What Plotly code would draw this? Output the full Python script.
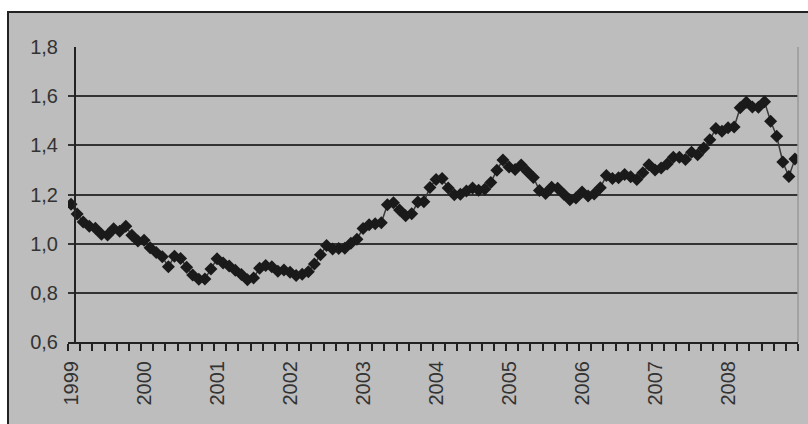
import plotly.graph_objects as go

years = [str(y) for y in range(1999, 2009)]
rate_1999 = [1.1608, 1.1208, 1.0883, 1.0704, 1.0628, 1.0378, 1.0353, 1.0604, 1.0501, 1.0706, 1.0338, 1.0110]
rate_2000 = [1.0137, 0.9834, 0.9643, 0.9470, 0.9060, 0.9492, 0.9397, 0.9041, 0.8721, 0.8552, 0.8564, 0.8973]
rate_2001 = [0.9383, 0.9217, 0.9095, 0.8920, 0.8742, 0.8532, 0.8607, 0.9005, 0.9111, 0.9059, 0.8883, 0.8924]
rate_2002 = [0.8833, 0.8700, 0.8758, 0.8858, 0.9170, 0.9554, 0.9922, 0.9778, 0.9808, 0.9811, 1.0014, 1.0183]
rate_2003 = [1.0622, 1.0773, 1.0807, 1.0848, 1.1582, 1.1663, 1.1372, 1.1139, 1.1222, 1.1692, 1.1702, 1.2286]
rate_2004 = [1.2613, 1.2646, 1.2262, 1.1985, 1.2007, 1.2138, 1.2266, 1.2176, 1.2218, 1.2490, 1.2991, 1.3408]
rate_2005 = [1.3119, 1.3014, 1.3201, 1.2938, 1.2694, 1.2165, 1.2037, 1.2292, 1.2256, 1.2015, 1.1786, 1.1856]
rate_2006 = [1.2103, 1.1938, 1.2020, 1.2271, 1.2770, 1.2650, 1.2684, 1.2811, 1.2727, 1.2611, 1.2881, 1.3213]
rate_2007 = [1.2999, 1.3074, 1.3242, 1.3516, 1.3511, 1.3419, 1.3716, 1.3622, 1.3896, 1.4227, 1.4684, 1.4570]
rate_2008 = [1.4718, 1.4748, 1.5527, 1.5751, 1.5557, 1.5553, 1.5770, 1.4975, 1.4370, 1.3322, 1.2732, 1.3449]

values = (rate_1999 + rate_2000 + rate_2001 + rate_2002 + rate_2003 +
          rate_2004 + rate_2005 + rate_2006 + rate_2007 + rate_2008)
x_idx = list(range(len(values)))
year_ticks = [i * 12 for i in range(len(years))]

W, H = 808, 424
L, R, T, B = 68, 10, 47, 82
pw, ph = W - L - R, H - T - B

fig = go.Figure()
fig.add_trace(go.Scatter(
    x=x_idx, y=values, mode="lines+markers",
    line=dict(color="#3a3a3a", width=1.5),
    marker=dict(symbol="diamond", size=10, color="#1a1a1a"),
    hoverinfo="skip", showlegend=False,
))

# gray chart-area background with black border (paper-referenced)
fig.add_shape(type="rect", xref="paper", yref="paper", layer="below",
              x0=(8 - L) / pw, x1=(W + 4 - L) / pw,
              y0=-(H + 4 - (T + ph)) / ph, y1=(T + ph - 12) / ph,
              fillcolor="#bdbdbd", line=dict(color="#222", width=2))
# vertical axis line
fig.add_shape(type="line", xref="x", yref="y domain", x0=0.65, x1=0.65, y0=0, y1=1,
              line=dict(color="#222", width=2))
# right edge of plot area
fig.add_shape(type="line", xref="paper", yref="paper", x0=1, x1=1, y0=0, y1=1,
              line=dict(color="#9a9a9a", width=1.5))

fig.update_layout(
    width=W, height=H,
    margin=dict(l=L, r=R, t=T, b=B),
    paper_bgcolor="white", plot_bgcolor="white",
    separators=",.",
    font=dict(family="Liberation Sans, Arial, sans-serif", size=20, color="#333"),
    xaxis=dict(
        range=[-0.5, len(values) - 0.5], showgrid=False, zeroline=False,
        tickmode="array", tickvals=year_ticks, ticktext=years,
        tickangle=-90, ticks="outside", ticklen=9, tickcolor="rgba(0,0,0,0)",
        minor=dict(tick0=-0.5, dtick=2, ticks="outside", ticklen=7,
                   tickcolor="#222", tickwidth=2, showgrid=False),
        showline=True, linecolor="#222", linewidth=2,
    ),
    yaxis=dict(
        range=[0.6, 1.8], dtick=0.2, tick0=0.6, tickformat=".1f",
        showgrid=True, gridcolor="#333", gridwidth=2, zeroline=False,
        ticks="", ticklabelstandoff=9, showline=False,
    ),
)

fig.write_html("out.html")
